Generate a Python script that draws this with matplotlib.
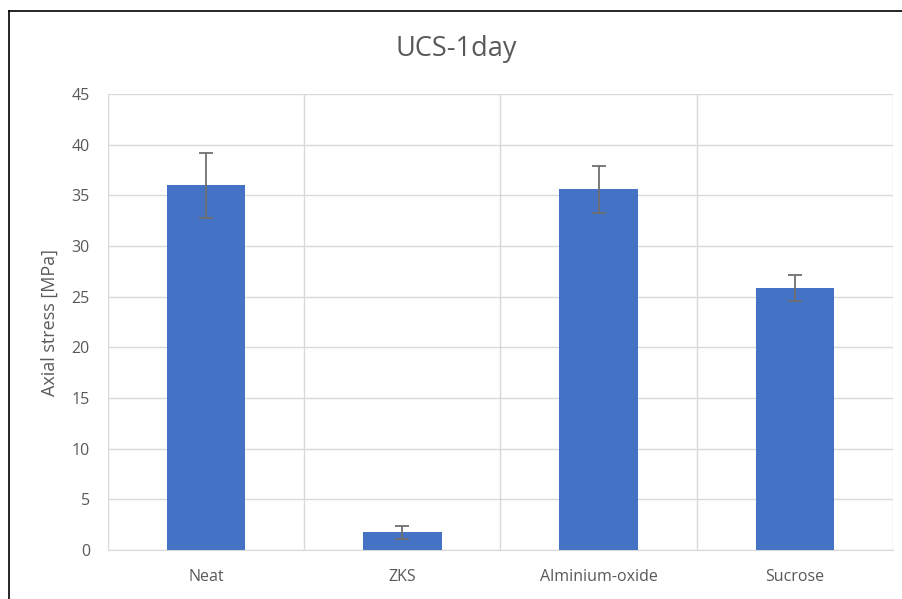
import numpy as np
import matplotlib
matplotlib.use("Agg")
import matplotlib.pyplot as plt
from matplotlib.lines import Line2D

plt.rcParams['font.family'] = ['Open Sans', 'DejaVu Sans']

# Data
categories = ["Neat", "ZKS", "Alminium-oxide", "Sucrose"]
ucs_mean = [36.0, 1.75, 35.6, 25.85]
ucs_err = [3.2, 0.65, 2.3, 1.25]
y_ticks = [0, 5, 10, 15, 20, 25, 30, 35, 40, 45]

text_col = "#595959"
grid_col = "#d9d9d9"
bar_col = "#4472c4"

fig = plt.figure(figsize=(9.03, 5.99), dpi=100)
ax = fig.add_axes([108 / 903, 1 - 550 / 599, (893 - 108) / 903, (550 - 94) / 599])

x = np.arange(len(categories))
ax.bar(x, ucs_mean, width=0.4, color=bar_col, zorder=3)
ax.errorbar(x, ucs_mean, yerr=ucs_err, fmt="none", ecolor="#6f6f6f",
            elinewidth=1.3, capsize=5, capthick=1.3, zorder=4)

ax.set_xlim(-0.5, len(categories) - 0.5)
ax.set_ylim(0, 45)
ax.set_yticks(y_ticks)
ax.set_xticks(x)
ax.set_xticklabels(categories)

# horizontal and category-boundary gridlines
ax.yaxis.grid(True, color=grid_col, linewidth=1, zorder=0)
for b in np.arange(-0.5, len(categories), 1.0):
    ax.axvline(b, color=grid_col, linewidth=1, zorder=0)

for s in ["top", "right", "left"]:
    ax.spines[s].set_visible(False)
ax.spines["bottom"].set_color(grid_col)
ax.tick_params(axis="both", length=0, colors=text_col, labelsize=11.5)
ax.tick_params(axis="y", pad=13)
ax.tick_params(axis="x", pad=14)

ax.set_ylabel("Axial stress [MPa]", color=text_col, fontsize=13, labelpad=9)
fig.text(456 / 903, 1 - 49 / 599, "UCS-1day", ha="center", va="center",
         color=text_col, fontsize=19.5)

# outer chart border (cropped: only left and top visible)
fig.add_artist(Line2D([9 / 903, 9 / 903], [0, 1 - 11 / 599], color="black",
                      linewidth=1.2, transform=fig.transFigure))
fig.add_artist(Line2D([9 / 903, 1], [1 - 11 / 599, 1 - 11 / 599], color="black",
                      linewidth=1.2, transform=fig.transFigure))

fig.savefig("out.png", dpi=100)
